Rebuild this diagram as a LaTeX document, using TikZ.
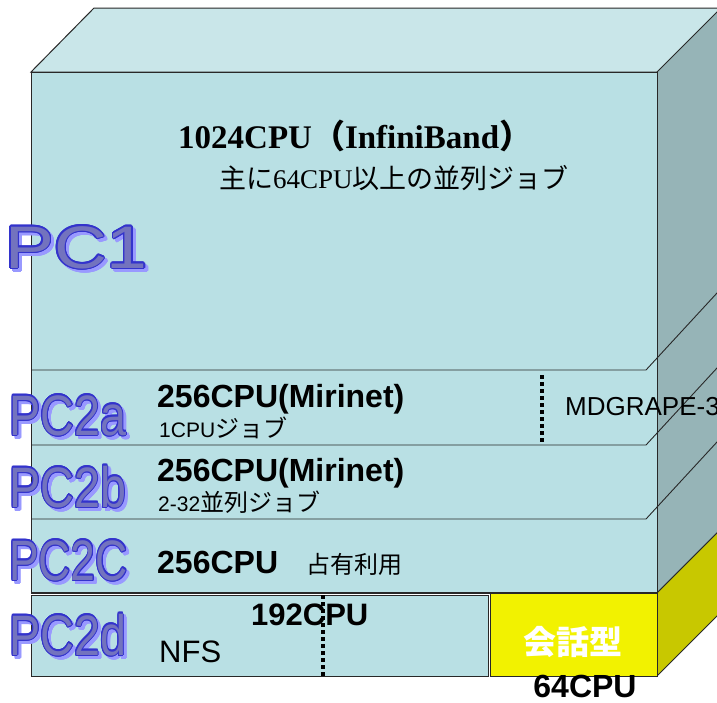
\documentclass[tikz,border=0pt]{standalone}
\usepackage{fontspec}
\setmainfont{Liberation Serif}
\setsansfont{Liberation Sans}
\newfontfamily\cjk{Noto Sans CJK JP}
\usepackage{contour}
\contourlength{1.1pt}
\definecolor{frontc}{RGB}{185,224,228}
\definecolor{topc}{RGB}{201,230,233}
\definecolor{sidec}{RGB}{150,180,183}
\definecolor{yel}{RGB}{242,242,0}
\definecolor{yelside}{RGB}{200,200,0}
\definecolor{pcfill}{RGB}{115,115,190}
\definecolor{pcline}{RGB}{51,51,204}
\definecolor{pcshadow}{RGB}{153,153,255}
\definecolor{edgec}{RGB}{40,40,40}
\newcommand{\pcmark}[6]{%
  \node[pcs, font=\sffamily\fontsize{#6}{#6}\selectfont] (#1-s) at (#2+3,#3+3) {\scalebox{#4}[1]{\contour{pcshadow}{#5}}};
  \node[pcm, font=\sffamily\fontsize{#6}{#6}\selectfont] (#1) at (#2,#3) {\scalebox{#4}[1]{\contour{pcline}{#5}}};}
\tikzset{
  edge/.style={draw=edgec, line width=1pt, line join=miter},
  divline/.style={draw=edgec, line width=0.9pt},
  dotline/.style={draw=black, line width=3.5pt, dash pattern=on 3.5pt off 3.5pt},
  pcm/.style={anchor=base west, inner sep=0pt, text=pcfill},
  pcs/.style={pcm, text=pcshadow},
  txt/.style={anchor=base west, inner sep=0pt, text=black},
}
\begin{document}
\begin{tikzpicture}[x=1pt, y=-1pt]
\clip (0,0) rectangle (717,702);
% top face
\path[edge, fill=topc] (31,72) -- (94,8) -- (800,8) -- (720,72) -- cycle;
% right face
\path[edge, fill=sidec] (657,72) -- (721,8) -- (740,8) -- (740,510) -- (657,593) -- cycle;
% yellow side
\path[edge, fill=yelside] (657,593) -- (740,510) -- (740,593) -- (657,676) -- cycle;
% front face
\path[edge, fill=frontc] (31,72) rectangle (657,593);
% division lines
\draw[divline] (31,370) -- (646,370) -- ++(90,-97.6);
\draw[divline] (31,445) -- (646,445) -- ++(90,-97.6);
\draw[divline] (31,519) -- (646,519) -- ++(90,-97.6);
% bottom row
\path[edge, fill=frontc] (31,595) rectangle (488,676);
\path[edge, fill=yel] (490,593) rectangle (657,676);
\draw[edgec, line width=0.8pt] (31,592) -- (657,592);
% dotted separators
\draw[dotline] (542,375) -- (542,444);
\draw[dotline] (323,595) -- (323,676);
% texts
\node[txt, font=\bfseries\fontsize{33}{36}\selectfont] (t1024) at (178,148) {1024CPU{\cjk （}InfiniBand{\cjk ）}};
\node[txt, font=\fontsize{27}{30}\selectfont] (tmain) at (219,188) {{\cjk 主に}64CPU{\cjk 以上の並列ジョブ}};
\node[txt, font=\sffamily\bfseries\fontsize{32}{36}\selectfont] (t256a) at (157,407) {256CPU(Mirinet)};
\node[txt, font=\sffamily\fontsize{21}{24}\selectfont] (tjob1) at (159,437) {1CPU{\cjk\fontsize{24}{26}\selectfont ジョブ}};
\node[txt, font=\sffamily\bfseries\fontsize{32}{36}\selectfont] (t256b) at (157,481) {256CPU(Mirinet)};
\node[txt, font=\sffamily\fontsize{21}{24}\selectfont] (tjob2) at (158,511) {2-32{\cjk\fontsize{24}{26}\selectfont 並列ジョブ}};
\node[txt, font=\sffamily\bfseries\fontsize{32}{36}\selectfont] (t256c) at (157,573) {256CPU};
\node[txt, font=\cjk\fontsize{24}{26}\selectfont] (tsen) at (306,573) {占有利用};
\node[txt, font=\sffamily\bfseries\fontsize{31}{34}\selectfont] (t192) at (251,625) {192CPU};
\node[txt, font=\sffamily\fontsize{31}{34}\selectfont] (tnfs) at (159,662) {NFS};
\node[txt, font=\sffamily\fontsize{26}{28}\selectfont] (tmd) at (565,415) {MDGRAPE-3};
\node[anchor=center, inner sep=0pt, text=white, font=\cjk\bfseries\fontsize{33}{36}\selectfont] (tkaiwa) at (573,642) {会話型};
\node[anchor=base, inner sep=0pt, text=black, font=\sffamily\bfseries\fontsize{32}{36}\selectfont] (t64) at (585,697) {64CPU};
% PC labels
\pcmark{pc1}{5}{268}{1.22}{PC1}{60}
\pcmark{pc2a}{9}{435}{0.82}{PC2a}{57}
\pcmark{pc2b}{9}{507}{0.82}{PC2b}{57}
\pcmark{pc2c}{9}{580}{0.78}{PC2C}{57}
\pcmark{pc2d}{9}{655}{0.82}{PC2d}{57}
\end{tikzpicture}
\end{document}
